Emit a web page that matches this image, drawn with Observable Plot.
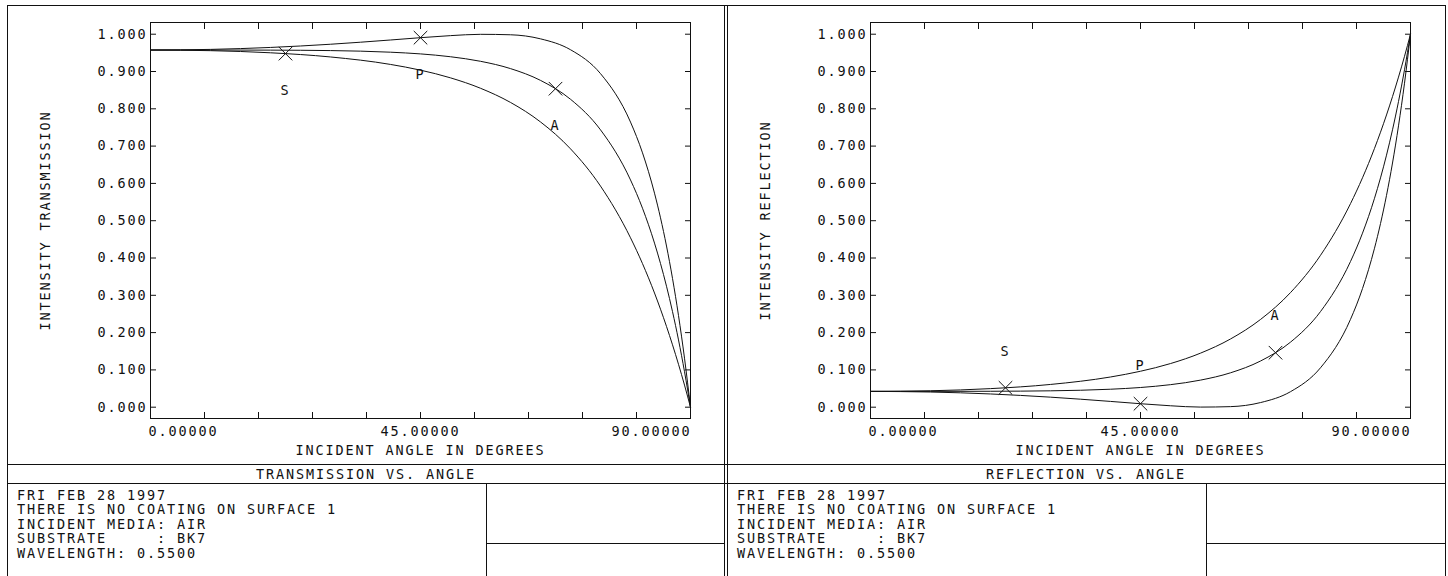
<!DOCTYPE html>
<html>
<head>
<meta charset="utf-8">
<script src="https://cdn.jsdelivr.net/npm/d3@7"></script>
<script src="https://cdn.jsdelivr.net/npm/@observablehq/plot@0.6"></script>
<style>
  body { margin: 0; background: #fff; }
  #root { position: relative; width: 1448px; height: 576px; overflow: hidden; background: #fff; }
  .panel { position: absolute; top: 0; }
  #overlay { position: absolute; left: 0; top: 0; pointer-events: none; }
</style>
</head>
<body>
<div id="root"></div>
<script>
// ---- data ----
const angles = [0, 10, 20, 30, 40, 45, 50, 55, 60, 65, 70, 75, 80, 82, 84, 85, 86, 87, 88, 89, 90];

const transS = [0.9576, 0.9559, 0.9502, 0.9390, 0.9190, 0.9036, 0.8830, 0.8551, 0.8171, 0.7648, 0.6927, 0.5928, 0.4542, 0.3849, 0.3061, 0.2627, 0.2165, 0.1673, 0.1150, 0.0593, 0.0];
const transP = [0.9576, 0.9593, 0.9645, 0.9731, 0.9845, 0.9907, 0.9962, 0.9997, 0.9985, 0.9876, 0.9584, 0.8943, 0.7644, 0.6819, 0.5738, 0.5077, 0.4321, 0.3453, 0.2457, 0.1314, 0.0];
const transA = [0.9576, 0.9576, 0.9573, 0.9561, 0.9518, 0.9472, 0.9396, 0.9274, 0.9078, 0.8762, 0.8256, 0.7436, 0.6093, 0.5334, 0.4399, 0.3852, 0.3243, 0.2563, 0.1804, 0.0953, 0.0];

const reflS = [0.0424, 0.0441, 0.0498, 0.0610, 0.0810, 0.0964, 0.1170, 0.1449, 0.1829, 0.2352, 0.3073, 0.4072, 0.5458, 0.6151, 0.6939, 0.7373, 0.7835, 0.8327, 0.8850, 0.9407, 1.0];
const reflP = [0.0424, 0.0407, 0.0355, 0.0269, 0.0155, 0.0093, 0.0038, 0.0003, 0.0015, 0.0124, 0.0416, 0.1057, 0.2356, 0.3181, 0.4262, 0.4923, 0.5679, 0.6547, 0.7543, 0.8686, 1.0];
const reflA = [0.0424, 0.0424, 0.0427, 0.0439, 0.0482, 0.0528, 0.0604, 0.0726, 0.0922, 0.1238, 0.1744, 0.2564, 0.3907, 0.4666, 0.5601, 0.6148, 0.6757, 0.7437, 0.8196, 0.9047, 1.0];

const markerNames = ["S", "P", "A"];
const markerAngles = [22.5, 45, 67.5];
const transMarkers = [0.948, 0.9907, 0.8539];
const reflMarkers = [0.0520, 0.0093, 0.1461];
const transLabelValues = [0.849, 0.891, 0.755];
const reflLabelValues = [0.150, 0.110, 0.246];

const xTicks = [0, 9, 18, 27, 36, 45, 54, 63, 72, 81, 90];
const yTicks = [0, 0.1, 0.2, 0.3, 0.4, 0.5, 0.6, 0.7, 0.8, 0.9, 1.0];
const xLabelAngles = [0, 45, 90];
const xLabelTexts = ["0.00000", "45.00000", "90.00000"];

const xTitle = "INCIDENT ANGLE IN DEGREES";
const panelTitles = ["TRANSMISSION VS. ANGLE", "REFLECTION VS. ANGLE"];
const yTitles = ["INTENSITY TRANSMISSION", "INTENSITY REFLECTION"];
const infoLines = [
  "FRI FEB 28 1997",
  "THERE IS NO COATING ON SURFACE 1",
  "INCIDENT MEDIA: AIR",
  "SUBSTRATE     : BK7",
  "WAVELENGTH: 0.5500"
];

// ---- style ----
const INK = "#111";
const FONT = "'DejaVu Sans Mono', monospace";
const FS = 13.5;
const LS = 1.87;

const root = document.getElementById("root");

function makePanel(seriesList, markVals, labelVals, yTitle, left) {
  const data = [];
  seriesList.forEach(([name, vals]) => vals.forEach((v, i) => data.push({series: name, angle: angles[i], value: v})));
  const markers = markerAngles.map((a, i) => ({angle: a, value: markVals[i]}));
  const labels = markerAngles.map((a, i) => ({angle: a, value: labelVals[i], name: markerNames[i]}));
  const xl = xLabelAngles.map((a, i) => ({angle: a, label: xLabelTexts[i]}));
  const fmt = d3.format(".3f");
  const chart = Plot.plot({
    width: 720, height: 464,
    marginLeft: 150, marginRight: 30, marginTop: 22, marginBottom: 46,
    x: {domain: [0, 90]},
    y: {domain: [-0.0303, 1.0314]},
    style: {fontFamily: FONT, fontSize: FS + "px", letterSpacing: LS + "px", color: INK, background: "white"},
    marks: [
      Plot.frame({stroke: INK}),
      Plot.axisX(xTicks, {anchor: "bottom", tickSize: -6, tickFormat: () => "", label: null}),
      Plot.axisX(xTicks, {anchor: "top", tickSize: -6, tickFormat: () => "", label: null}),
      Plot.axisY(yTicks, {anchor: "left", tickSize: -6, tickFormat: () => "", label: null}),
      Plot.axisY(yTicks, {anchor: "right", tickSize: -6, tickFormat: () => "", label: null}),
      Plot.axisY(yTicks, {anchor: "left", tickSize: 0, tickPadding: 3, tickFormat: fmt, label: null}),
      Plot.text(xl.slice(0, 1), {x: "angle", text: "label", frameAnchor: "bottom", dy: 17, dx: -2, textAnchor: "start"}),
      Plot.text(xl.slice(1, 2), {x: "angle", text: "label", frameAnchor: "bottom", dy: 17, textAnchor: "middle"}),
      Plot.text(xl.slice(2, 3), {x: "angle", text: "label", frameAnchor: "bottom", dy: 17, dx: 1, textAnchor: "end"}),
      Plot.text([xTitle], {frameAnchor: "bottom", dy: 36, textAnchor: "middle"}),
      Plot.text([yTitle], {frameAnchor: "left", rotate: -90, dx: -105, textAnchor: "middle"}),
      Plot.line(data, {x: "angle", y: "value", z: "series", stroke: INK, strokeWidth: 1, curve: "monotone-x"}),
      Plot.dot(markers, {x: "angle", y: "value", symbol: "times", r: 6.2, stroke: INK, strokeWidth: 1}),
      Plot.text(labels, {x: "angle", y: "value", text: "name"})
    ]
  });
  chart.classList.add("panel");
  chart.style.left = left + "px";
  chart.style.position = "absolute";
  chart.style.top = "0px";
  root.appendChild(chart);
}

makePanel([["S", transS], ["P", transP], ["A", transA]], transMarkers, transLabelValues, yTitles[0], 0);
makePanel([["S", reflS], ["P", reflP], ["A", reflA]], reflMarkers, reflLabelValues, yTitles[1], 720);

// ---- frame boxes and info text ----
const svg = d3.select(root).append("svg")
  .attr("id", "overlay").attr("width", 1448).attr("height", 576);
const lines = [
  [7, 5.5, 1446, 5.5],
  [7.5, 5, 7.5, 576], [724.5, 5, 724.5, 576], [727.5, 5, 727.5, 576], [1445.5, 5, 1445.5, 576],
  [7, 464.5, 1446, 464.5], [7, 483.5, 1446, 483.5],
  [486.5, 483, 486.5, 576], [486, 543.5, 725, 543.5],
  [1206.5, 483, 1206.5, 576], [1206, 543.5, 1446, 543.5]
];
svg.selectAll("line").data(lines).join("line")
  .attr("x1", d => d[0]).attr("y1", d => d[1]).attr("x2", d => d[2]).attr("y2", d => d[3])
  .attr("stroke", INK).attr("stroke-width", 1);

const textStyle = sel => sel.attr("font-family", FONT).attr("font-size", FS)
  .style("letter-spacing", LS + "px").style("white-space", "pre").attr("fill", INK);

[366, 1086].forEach((cx, i) => {
  svg.append("text").attr("x", cx).attr("y", 478.5).attr("text-anchor", "middle")
    .call(textStyle).text(panelTitles[i]);
});
[17, 737].forEach(x0 => {
  infoLines.forEach((t, i) => {
    svg.append("text").attr("x", x0).attr("y", 500 + i * 14.4).call(textStyle).text(t);
  });
});
</script>
</body>
</html>
